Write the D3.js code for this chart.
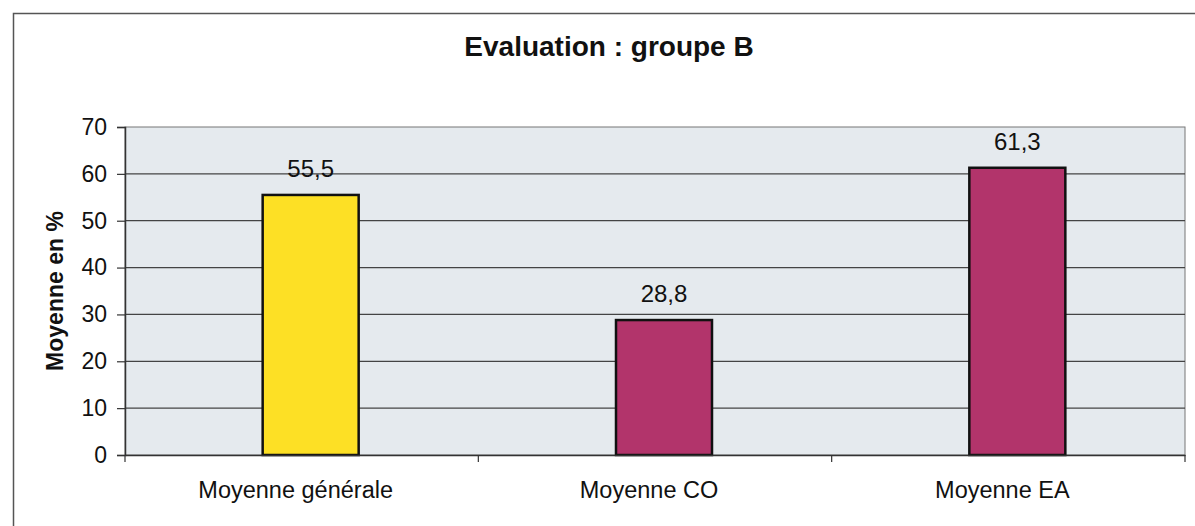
<!DOCTYPE html>
<html>
<head>
<meta charset="utf-8">
<script src="https://cdn.jsdelivr.net/npm/d3@7"></script>
<style>
  body { margin: 0; background: #fff; }
  svg { font-family: "Liberation Sans", Arial, sans-serif; }
</style>
</head>
<body>
<div id="chart"></div>
<script>
const categories = ["Moyenne générale", "Moyenne CO", "Moyenne EA"];
const values = [55.5, 28.8, 61.3];
const barColors = ["#fde025", "#b2346b", "#b2346b"];
const yTicks = [0, 10, 20, 30, 40, 50, 60, 70];

var W = 1195, H = 526;
var margin = {top: 127, right: 10, bottom: 71, left: 125},
    width = 1185 - margin.left,
    height = 455 - margin.top;

const svg = d3.select("#chart").append("svg")
    .attr("width", W)
    .attr("height", H);

// outer frame (only top & left visible in the scan)
svg.append("path")
    .attr("d", "M13.5," + H + "V13.5H" + W)
    .attr("fill", "none")
    .attr("stroke", "#555")
    .attr("stroke-width", 1.5);

svg.append("text")
    .attr("x", 609)
    .attr("y", 56)
    .attr("text-anchor", "middle")
    .style("font-size", "28px")
    .style("font-weight", "bold")
    .attr("fill", "#111")
    .text("Evaluation : groupe B");

const g = svg.append("g")
    .attr("transform", "translate(" + margin.left + "," + margin.top + ")");

var x = d3.scaleBand()
    .domain(categories)
    .range([0, width]);

var y = d3.scaleLinear()
    .domain([0, 70])
    .range([height, 0]);

g.append("rect")
    .attr("width", width)
    .attr("height", height)
    .attr("fill", "#e5eaee")
    .attr("stroke", "#777")
    .attr("stroke-width", 1);

// gridlines
g.selectAll(".grid")
    .data(yTicks.filter(d => d > 0 && d < 70))
    .enter()
    .append("line")
    .attr("x1", 0)
    .attr("x2", width)
    .attr("y1", d => y(d))
    .attr("y2", d => y(d))
    .attr("stroke", "#444")
    .attr("stroke-width", 1.2);

var barW = 96;
var shift = 9;
g.selectAll(".bar")
    .data(values)
    .enter()
    .append("rect")
    .attr("x", (d, i) => x(categories[i]) + x.bandwidth() / 2 - barW / 2 + shift)
    .attr("y", d => y(d))
    .attr("width", barW)
    .attr("height", d => y(0) - y(d))
    .attr("fill", (d, i) => barColors[i])
    .attr("stroke", "#111")
    .attr("stroke-width", 2.5);

g.selectAll(".val")
    .data(values)
    .enter()
    .append("text")
    .attr("x", (d, i) => x(categories[i]) + x.bandwidth() / 2 + shift)
    .attr("y", d => y(d) - 18)
    .attr("text-anchor", "middle")
    .style("font-size", "24px")
    .attr("fill", "#111")
    .text(d => String(d).replace(".", ","));

// y axis
var yAxis = g.append("g")
    .call(d3.axisLeft(y).tickValues(yTicks).tickSize(8).tickPadding(10));
yAxis.select(".domain").attr("stroke", "#333").attr("stroke-width", 1.5);
yAxis.selectAll(".tick line").attr("stroke", "#333").attr("stroke-width", 1.2);
yAxis.selectAll("text").style("font-size", "23px").attr("fill", "#111")
    .style("font-family", "Liberation Sans, Arial, sans-serif");

// x axis
var xAxis = g.append("g")
    .attr("transform", "translate(0," + height + ")")
    .call(d3.axisBottom(x).tickSize(0).tickPadding(26));
xAxis.select(".domain").attr("stroke", "#333").attr("stroke-width", 1.5);
xAxis.selectAll("text").style("font-size", "23.5px").attr("fill", "#111")
    .attr("dx", -6)
    .style("font-family", "Liberation Sans, Arial, sans-serif");

// category separator ticks
g.selectAll(".sep")
    .data(categories)
    .enter()
    .append("line")
    .attr("x1", d => x(d))
    .attr("x2", d => x(d))
    .attr("y1", height)
    .attr("y2", height + 7)
    .attr("stroke", "#333")
    .attr("stroke-width", 1.2);
g.append("line")
    .attr("x1", width).attr("x2", width)
    .attr("y1", height).attr("y2", height + 7)
    .attr("stroke", "#333").attr("stroke-width", 1.2);

svg.append("text")
    .attr("transform", "translate(63," + (margin.top + height / 2) + ") rotate(-90)")
    .attr("text-anchor", "middle")
    .style("font-size", "23px")
    .style("font-weight", "bold")
    .attr("fill", "#111")
    .text("Moyenne en %");
</script>
</body>
</html>
